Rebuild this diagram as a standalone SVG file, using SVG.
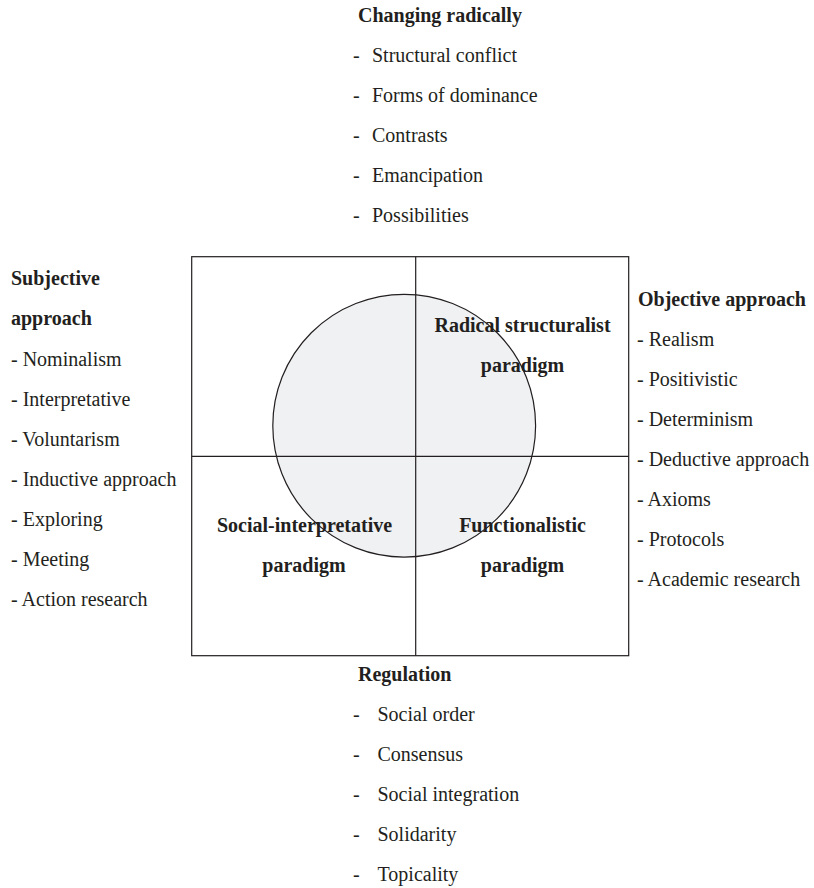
<svg xmlns="http://www.w3.org/2000/svg" width="814" height="888" viewBox="0 0 814 888">
<style>
text{font-family:"Liberation Serif","Times New Roman",serif;font-size:20px;fill:#231f20}
.b{font-weight:bold}
.m{text-anchor:middle}
.ln{stroke:#231f20;stroke-width:1.2;fill:none}
</style>
<rect width="814" height="888" fill="#fff"/>
<g id="frame">
<circle cx="404.2" cy="425.7" r="131.4" fill="#f0f1f3" stroke="#231f20" stroke-width="1.2"/>
<rect class="ln" x="191.7" y="256.7" width="437" height="399"/>
</g>
<g id="connectors">
<line class="ln" x1="415.7" y1="256.7" x2="415.7" y2="655.7"/>
<line class="ln" x1="191.7" y1="456.3" x2="628.7" y2="456.3"/>
</g>
<g id="top">
<text class="b" x="358" y="22">Changing radically</text>
<text x="353" y="62">-</text><text x="372" y="62">Structural conflict</text>
<text x="353" y="102">-</text><text x="372" y="102">Forms of dominance</text>
<text x="353" y="142">-</text><text x="372" y="142">Contrasts</text>
<text x="353" y="182">-</text><text x="372" y="182">Emancipation</text>
<text x="353" y="222">-</text><text x="372" y="222">Possibilities</text>
</g>
<g id="left">
<text class="b" x="11" y="285">Subjective</text>
<text class="b" x="11" y="325">approach</text>
<text x="11" y="366">- Nominalism</text>
<text x="11" y="406">- Interpretative</text>
<text x="11" y="446">- Voluntarism</text>
<text x="11" y="486">- Inductive approach</text>
<text x="11" y="526">- Exploring</text>
<text x="11" y="566">- Meeting</text>
<text x="11" y="606">- Action research</text>
</g>
<g id="right">
<text class="b" x="638" y="306">Objective approach</text>
<text x="637" y="346">- Realism</text>
<text x="637" y="386">- Positivistic</text>
<text x="637" y="426">- Determinism</text>
<text x="637" y="466">- Deductive approach</text>
<text x="637" y="506">- Axioms</text>
<text x="637" y="546">- Protocols</text>
<text x="637" y="586">- Academic research</text>
</g>
<g id="bottom">
<text class="b" x="358" y="681">Regulation</text>
<text x="353" y="721">-</text><text x="377.5" y="721">Social order</text>
<text x="353" y="761">-</text><text x="377.5" y="761">Consensus</text>
<text x="353" y="801">-</text><text x="377.5" y="801">Social integration</text>
<text x="353" y="841">-</text><text x="377.5" y="841">Solidarity</text>
<text x="353" y="881">-</text><text x="377.5" y="881">Topicality</text>
</g>
<g id="radical">
<text class="b m" x="522.5" y="331.5">Radical structuralist</text>
<text class="b m" x="522.5" y="371.5">paradigm</text>
</g>
<g id="social">
<text class="b m" x="304.5" y="531.5">Social-interpretative</text>
<text class="b m" x="304" y="571.5">paradigm</text>
</g>
<g id="functional">
<text class="b m" x="522.5" y="531.5">Functionalistic</text>
<text class="b m" x="522.5" y="571.5">paradigm</text>
</g>
</svg>
